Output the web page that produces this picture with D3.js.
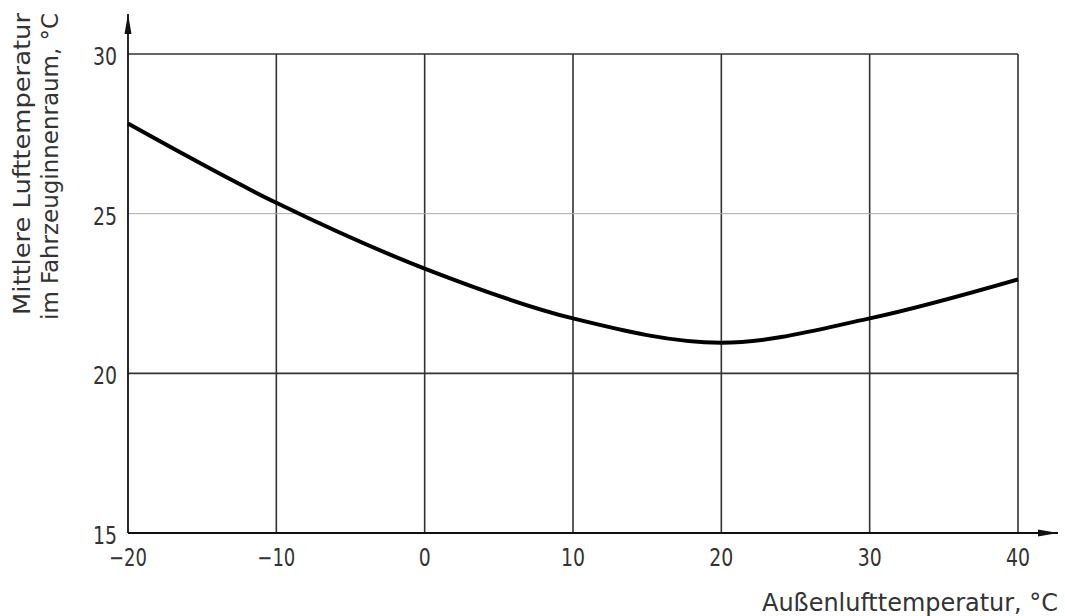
<!DOCTYPE html>
<html><head><meta charset="utf-8">
<script src="https://cdn.jsdelivr.net/npm/d3@7"></script>
<style>body{margin:0;background:#fff}text{font-family:"DejaVu Sans Condensed","DejaVu Sans",sans-serif;fill:#333}</style>
</head><body><svg id="c" width="1065" height="616"></svg>
<script>
const outsideTemp = [-20, -10, 0, 10, 20, 30, 40];
const cabinTemp = [27.82, 25.34, 23.28, 21.72, 20.96, 21.72, 22.94];
const xTicks = [-20, -10, 0, 10, 20, 30, 40];
const yTicks = [15, 20, 25, 30];
const xTitle = "Außenlufttemperatur, °C";
const yTitle = ["Mittlere Lufttemperatur", "im Fahrzeuginnenraum, °C"];

const svg = d3.select("#c");
const x = d3.scaleLinear().domain([-20, 40]).range([128, 1018]);
const y = d3.scaleLinear().domain([15, 30]).range([533, 54]);
const fmt = d => (d < 0 ? "\u2212" + Math.abs(d) : "" + d);
const tickLen = d => (d < 0 ? 38 : String(d).length * 12);

svg.append("defs").append("marker").attr("id","arr").attr("viewBox","0 0 20 8")
  .attr("refX",20).attr("refY",4).attr("markerWidth",20).attr("markerHeight",8)
  .attr("markerUnits","userSpaceOnUse").attr("orient","auto")
  .append("path").attr("d","M0,0.5 L20,4 L0,7.5 Z").attr("fill","#111");

// vertical grid
svg.append("g").selectAll("line").data(xTicks.slice(1)).join("line")
  .attr("x1", d => x(d)).attr("x2", d => x(d)).attr("y1", y(30)).attr("y2", y(15))
  .attr("stroke", "#333").attr("stroke-width", 1.6);
// horizontal grid
svg.append("g").selectAll("line").data([20, 30]).join("line")
  .attr("x1", x(-20)).attr("x2", x(40)).attr("y1", d => y(d)).attr("y2", d => y(d))
  .attr("stroke", "#333").attr("stroke-width", 1.6);
svg.append("line").attr("x1", x(-20)).attr("x2", x(40)).attr("y1", y(25)).attr("y2", y(25))
  .attr("stroke", "#aaa").attr("stroke-width", 1);

// axes with arrows
svg.append("line").attr("x1", x(-20)).attr("x2", x(-20)).attr("y1", y(15)).attr("y2", 14)
  .attr("stroke", "#111").attr("stroke-width", 1.8).attr("marker-end","url(#arr)");
svg.append("line").attr("x1", x(-20)).attr("x2", 1058).attr("y1", y(15)).attr("y2", y(15))
  .attr("stroke", "#111").attr("stroke-width", 1.8).attr("marker-end","url(#arr)");

// tick labels
svg.append("g").selectAll("text").data(xTicks).join("text")
  .attr("x", d => x(d)).attr("y", 566).attr("text-anchor", "middle")
  .attr("font-size", 24).attr("textLength", tickLen).attr("lengthAdjust", "spacingAndGlyphs").text(fmt);
svg.append("g").selectAll("text").data(yTicks).join("text")
  .attr("x", 117).attr("y", d => y(d) + 11).attr("text-anchor", "end")
  .attr("font-size", 24).attr("textLength", tickLen).attr("lengthAdjust", "spacingAndGlyphs").text(fmt);

// titles
svg.append("text").attr("x", 1058).attr("y", 611).attr("text-anchor", "end")
  .attr("font-size", 24).attr("textLength", 296).attr("lengthAdjust", "spacingAndGlyphs").text(xTitle);
const yLens = [302, 307];
yTitle.forEach((t, i) => {
  svg.append("text").attr("transform", `translate(${30 + i * 28},13) rotate(-90)`)
    .attr("text-anchor", "end").attr("font-size", 23)
    .attr("textLength", yLens[i]).attr("lengthAdjust", "spacingAndGlyphs").text(t);
});

// curve
svg.append("path").datum(outsideTemp.map((d, i) => [d, cabinTemp[i]]))
  .attr("fill", "none").attr("stroke", "#000").attr("stroke-width", 4)
  .attr("d", d3.line().x(d => x(d[0])).y(d => y(d[1])).curve(d3.curveCatmullRom));
</script></body></html>
